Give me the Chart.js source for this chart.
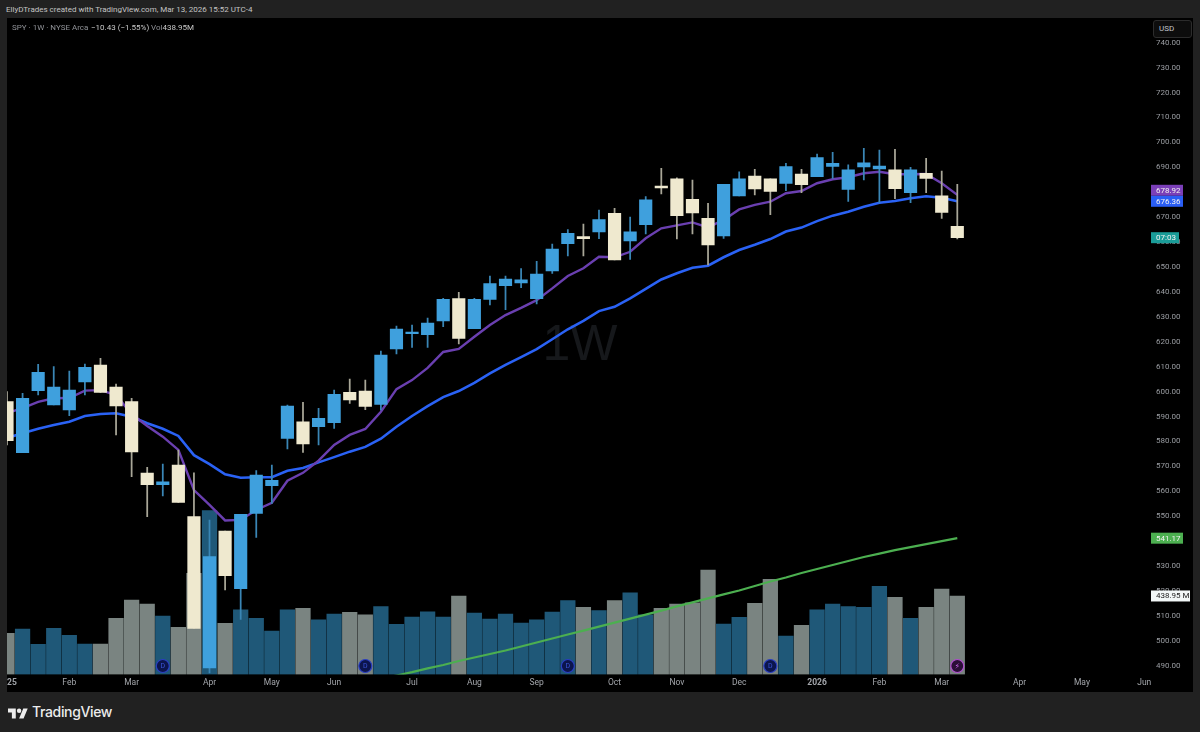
<!DOCTYPE html>
<html>
<head>
<meta charset="utf-8">
<title>SPY 1W</title>
<script src="https://cdn.jsdelivr.net/npm/chart.js@4/dist/chart.umd.min.js"></script>
<style>
  html, body { margin: 0; padding: 0; width: 1200px; height: 732px; overflow: hidden; background: #212121; font-family: Roboto, sans-serif; }
  #pane { position: absolute; left: 7px; top: 18px; width: 1186px; height: 674px; background: #000; }
  #chart { position: absolute; left: 0; top: 0; }
  .txt { position: absolute; white-space: nowrap; font-size: 8px; line-height: 11px; }
  #logo { position: absolute; left: 8px; top: 706px; width: 20px; height: 14px; fill: #ececec; }
  #usd { position: absolute; left: 1153px; top: 20px; width: 37px; height: 16px; border: 1px solid #2c2c2c; border-radius: 3px; background: #0d0d0d; color: #c0c3ca; font-size: 8px; line-height: 16px; text-indent: 5px; box-sizing: content-box; }
</style>
</head>
<body>
<div class="txt" style="left:6px;top:4px;color:#c4c4c4">EllyDTrades created with TradingView.com, Mar 13, 2026 15:52 UTC-4</div>
<div id="pane"><canvas id="chart" width="1186" height="674"></canvas></div>
<div class="txt" style="left:12px;top:22px;color:#8f9196">SPY · 1W · NYSE Arca</div>
<div class="txt" style="left:91px;top:22px;color:#c9c9c9">−10.43 (−1.55%)</div>
<div class="txt" style="left:151px;top:22px;color:#8f9196">Vol<span style="color:#c9c9c9">438.95M</span></div>
<div id="usd">USD</div>
<svg id="logo" viewBox="0 0 36 24"><path d="M14 22H7V11H0V4h14v18zM28 22h-8l7.5-18h8L28 22z"/><circle cx="20" cy="8" r="4"/></svg>
<div class="txt" style="left:32px;top:703px;font-family:Inter,sans-serif;font-size:14px;line-height:18px;font-weight:500;color:#ececec;letter-spacing:-0.35px">TradingView</div>
<script>
const opens = [595.94,575.47,600.35,594.61,592.6,603.84,610.66,601.84,595.94,567.33,562.63,570.53,549.79,489.07,544.05,520.89,551.15,562.23,581.25,587.91,585.9,587.51,599.71,600.23,594.89,617.08,623.22,622.82,628.32,637.27,625.23,637.03,642.49,643.57,637.27,648.38,659.34,662.15,664.03,671.54,660.42,666.96,682.49,685.42,677.15,669.53,662.43,678.48,686.5,685.42,683.58,687.31,686.22,690.4,681.17,690.12,689.31,689.03,679.8,687.59,678.6,666.32];
const highs = [599.95,599.3,610.94,610.0,608.25,611.07,613.35,603.04,597.3,569.61,570.94,576.55,567.44,548.46,544.05,550.75,568.25,570.53,594.61,595.7,593.29,600.63,605.05,604.64,616.28,626.31,626.71,629.52,637.43,639.84,637.43,646.38,646.38,649.31,652.28,659.22,664.96,667.24,672.86,673.54,670.05,678.2,689.6,685.82,684.9,675.55,683.17,688.23,689.19,685.42,691.6,689.19,695.33,696.02,691.04,697.62,696.94,697.22,689.99,693.61,688.51,683.17];
const lows = [578.56,575.47,598.62,594.61,590.32,598.62,599.71,582.57,565.84,549.79,558.09,555.57,505.0,487.06,520.37,508.62,541.52,555.16,576.96,575.63,578.56,585.26,595.29,592.73,592.6,615.08,617.77,617.77,626.03,619.09,625.23,634.74,632.85,641.68,635.14,647.46,654.4,654.4,661.35,652.8,653.08,663.23,679.28,661.24,663.23,650.79,661.5,678.48,678.88,670.98,680.61,679.8,686.22,685.58,676.35,684.9,675.79,677.4,675.79,679.8,669.53,661.23];
const closes = [580.28,597.3,607.73,601.84,600.63,609.74,599.71,594.21,575.75,562.63,563.83,555.57,505.0,533.74,526.11,550.75,566.52,564.4,594.21,578.96,589.28,598.91,596.62,594.09,614.68,625.11,623.9,627.52,637.03,621.38,637.03,643.29,645.17,644.89,647.18,657.21,663.51,661.35,668.97,652.8,664.15,676.94,681.69,670.57,671.66,658.82,683.17,685.42,681.29,680.37,690.24,683.01,693.85,691.6,689.03,691.84,690.52,681.41,689.03,685.58,671.94,661.75];
const volumes = [230,254,169,258,219,170,170,314,416,394,327,264,566,916,286,361,314,243,361,370,305,338,348,333,379,281,321,351,321,439,344,310,338,288,305,349,413,376,357,413,457,333,370,394,401,584,282,320,398,532,215,275,361,394,379,376,493,432,314,376,478,438.95];
const emaFast = [591.4,593.4,595.9,597.3,597.4,600.4,600.6,598.6,591.0,586.2,581.9,576.6,560.5,554.5,548.3,548.5,552.5,555.4,564.2,567.4,572.3,578.6,582.6,585.0,591.9,601.0,604.6,609.5,615.9,617.1,622.0,626.7,630.7,633.6,636.7,641.4,646.4,649.5,654.1,653.9,656.1,661.5,665.5,666.7,667.9,665.9,668.9,673.1,674.9,676.2,679.6,680.5,683.6,685.2,686.0,687.6,688.2,687.2,687.2,687.3,683.6,678.92];
const emaSlow = [581.4,583.3,585.1,586.6,587.9,590.2,591.0,591.3,589.9,587.3,585.1,582.2,574.5,570.9,566.8,565.4,565.6,565.6,568.2,569.3,571.6,573.7,575.9,577.8,581.1,585.9,590.2,594.2,597.8,600.2,603.5,607.3,610.7,613.8,617.0,621.0,625.0,628.4,632.3,634.0,637.4,641.2,645.0,647.5,649.7,650.5,653.9,656.8,658.9,661.2,664.2,665.8,668.4,670.6,672.2,674.2,675.8,676.5,677.6,678.4,677.8,676.36];
const maLong = [null,null,null,null,null,null,null,null,null,null,null,null,null,null,null,null,null,null,null,null,null,null,null,null,484.7,486.06,487.4,488.9,490.3,491.9,493.3,494.7,496.1,497.7,499.3,500.9,502.5,504.1,505.7,507.3,508.9,510.5,512.1,513.8,515.4,517.0,518.6,520.2,522.0,523.8,525.4,527.2,528.8,530.4,532.0,533.6,535.0,536.4,537.6,538.8,540.0,541.17];
const monthTicks = [0,4,8,13,17,21,26,30,34,39,43,47,52,56,60,65,69,73];
const monthLabels = ['2025','Feb','Mar','Apr','May','Jun','Jul','Aug','Sep','Oct','Nov','Dec','2026','Feb','Mar','Apr','May','Jun'];
const priceTicks = [490,500,510,520,530,540,550,560,570,580,590,600,610,620,630,640,650,660,670,680,690,700,710,720,730,740];
const dividendWeeks = [10,23,36,49];
const earningsWeeks = [61];

const last = closes.length - 1;
const isDown = i => closes[i] < opens[i];
const axisFont = 'Roboto, sans-serif';

const drawTag = (ctx, x, y, w, bg, fg, text) => {
    ctx.fillStyle = bg;
    ctx.fillRect(x, y - 5.5, w, 11);
    ctx.fillStyle = fg;
    ctx.textAlign = 'left';
    ctx.textBaseline = 'middle';
    ctx.font = '8px ' + axisFont;
    ctx.fillText(text, x + 5, y + 0.5);
};

const drawMarker = (ctx, x, y, ring, fill, text, fg, font) => {
    ctx.beginPath();
    ctx.arc(x, y, 6.5, 0, Math.PI * 2);
    ctx.fillStyle = fill;
    ctx.fill();
    ctx.lineWidth = 1.2;
    ctx.strokeStyle = ring;
    ctx.stroke();
    ctx.fillStyle = fg;
    ctx.font = font;
    ctx.textAlign = 'center';
    ctx.textBaseline = 'middle';
    ctx.fillText(text, x, y + 0.5);
};

const chartDecor = {
    id: 'chartDecor',
    beforeDatasetsDraw(chart) {
        const { ctx } = chart;
        ctx.save();
        ctx.fillStyle = '#16181b';
        ctx.font = '50px "Liberation Sans", sans-serif';
        ctx.textAlign = 'center';
        ctx.textBaseline = 'middle';
        ctx.fillText('1W', 573, 328);
        ctx.restore();
    },
    afterDraw(chart) {
        const { ctx, scales } = chart;
        const tagX = chart.chartArea.right + 1;
        ctx.save();
        dividendWeeks.forEach(i => {
            drawMarker(ctx, scales.x.getPixelForValue(i), chart.chartArea.bottom - 8.5, '#2a3fc4', '#0c154d', 'D', '#3a55d8', '7px ' + axisFont);
        });
        earningsWeeks.forEach(i => {
            drawMarker(ctx, scales.x.getPixelForValue(i), chart.chartArea.bottom - 8.5, '#b14fd0', '#2b0f38', '⚡', '#c765e6', '8px "DejaVu Sans"');
        });
        const slowY = scales.y.getPixelForValue(emaSlow[last]);
        drawTag(ctx, tagX, slowY - 11, 32, '#7b3fb8', '#f2f2f2', emaFast[last].toFixed(2));
        drawTag(ctx, tagX, slowY, 32, '#2a5ef5', '#f2f2f2', emaSlow[last].toFixed(2));
        drawTag(ctx, tagX, scales.y.getPixelForValue(closes[last]), 28, '#1a9c98', '#f2f2f2', '07:03');
        drawTag(ctx, tagX, scales.y.getPixelForValue(maLong[last]), 32, '#4caf50', '#f2f2f2', maLong[last].toFixed(2));
        drawTag(ctx, tagX, scales.vol.getPixelForValue(volumes[last]), 39, '#f2f7f7', '#222', volumes[last].toFixed(2) + ' M');
        ctx.restore();
    }
};

new Chart(document.getElementById('chart').getContext('2d'), {
    type: 'bar',
    plugins: [chartDecor],
    data: {
        datasets: [
            {
                label: 'Candle bodies',
                data: opens.map((o, i) => ({ x: i, y: [o, closes[i]] })),
                backgroundColor: opens.map((o, i) => isDown(i) ? '#efe9cf' : '#3fa0dd'),
                barThickness: 12.5,
                grouped: false,
                order: 0
            },
            {
                label: 'Candle wicks',
                data: highs.map((h, i) => ({ x: i, y: [lows[i], h] })),
                backgroundColor: highs.map((h, i) => isDown(i) ? '#a9a798' : '#3a86b5'),
                barThickness: 1.1,
                grouped: false,
                order: 1
            },
            {
                type: 'line',
                label: 'EMA fast',
                data: emaFast.map((y, x) => ({ x, y })),
                borderColor: '#6a3fb0',
                borderWidth: 2.4,
                pointRadius: 0,
                tension: 0,
                order: 2
            },
            {
                type: 'line',
                label: 'EMA slow',
                data: emaSlow.map((y, x) => ({ x, y })),
                borderColor: '#2a62f5',
                borderWidth: 2.6,
                pointRadius: 0,
                tension: 0,
                order: 3
            },
            {
                type: 'line',
                label: 'MA long',
                data: maLong.map((y, x) => ({ x, y })),
                borderColor: '#4caf50',
                borderWidth: 2.2,
                pointRadius: 0,
                tension: 0,
                order: 4
            },
            {
                label: 'Volume',
                yAxisID: 'vol',
                data: volumes.map((y, x) => ({ x, y })),
                backgroundColor: volumes.map((v, i) => isDown(i) ? '#7a8481' : '#1f5878'),
                barThickness: 14.6,
                grouped: false,
                order: 5
            }
        ]
    },
    options: {
        responsive: false,
        animation: false,
        events: [],
        layout: { padding: 0 },
        plugins: {
            legend: { display: false },
            tooltip: { enabled: false }
        },
        scales: {
            x: {
                type: 'linear',
                offset: false,
                min: 0,
                max: 73.37,
                grid: { display: false, drawTicks: false },
                border: { display: false },
                afterBuildTicks: scale => { scale.ticks = monthTicks.map(value => ({ value })); },
                afterFit: scale => { scale.height = 17.5; scale.paddingLeft = 0; scale.paddingRight = 0; },
                ticks: {
                    autoSkip: false,
                    maxRotation: 0,
                    padding: 3,
                    color: '#a3a6ab',
                    font: c => ({ family: axisFont, size: 8.5, weight: /^\d{4}$/.test(monthLabels[c.index]) ? 'bold' : 'normal' }),
                    callback: (value, i) => monthLabels[i]
                }
            },
            y: {
                position: 'right',
                min: 486.47,
                max: 749.91,
                grid: { display: false, drawTicks: false },
                border: { display: false },
                afterBuildTicks: scale => { scale.ticks = priceTicks.map(value => ({ value })); },
                afterFit: scale => { scale.width = 43; scale.paddingTop = 0; scale.paddingBottom = 0; },
                ticks: {
                    padding: 6,
                    color: '#9a9da2',
                    font: { family: axisFont, size: 8 },
                    callback: value => value.toFixed(2)
                }
            },
            vol: {
                display: false,
                min: 0,
                max: 3670
            }
        }
    }
});
</script>
</body>
</html>
